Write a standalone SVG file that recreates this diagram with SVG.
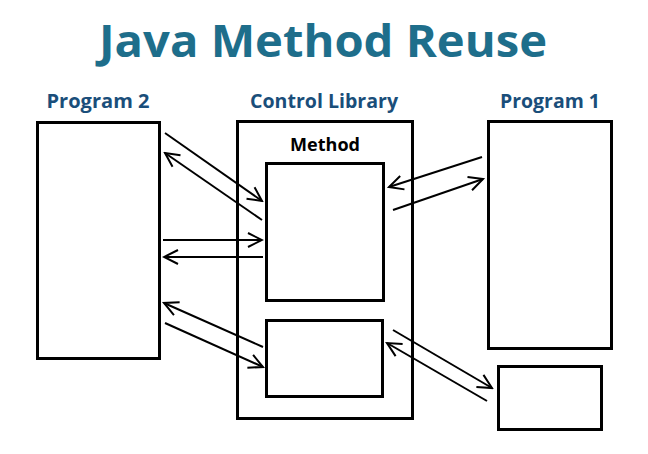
<svg xmlns="http://www.w3.org/2000/svg" width="648" height="454" viewBox="0 0 648 454">
<style>
.box{fill:none;stroke:#000;stroke-width:3}
.ln{fill:none;stroke:#000;stroke-width:2}
.title{font-family:"Open Sans","Liberation Sans",sans-serif;font-weight:bold;fill:#1e6e8b}
.lbl{font-family:"Open Sans","Liberation Sans",sans-serif;font-weight:bold;fill:#1a4e7a}
.m{font-family:"Open Sans","Liberation Sans",sans-serif;font-weight:bold;fill:#000}
</style>
<defs>
<marker id="ah" viewBox="0 0 18 18" refX="16" refY="9" markerWidth="18" markerHeight="18" markerUnits="userSpaceOnUse" orient="auto-start-reverse">
<polyline points="2,2 16,9 2,16" fill="none" stroke="#000" stroke-width="2"/>
</marker>
</defs>
<rect width="648" height="454" fill="#fff"/>
<text class="title" x="323" y="57" font-size="45" text-anchor="middle" textLength="448" lengthAdjust="spacingAndGlyphs">Java Method Reuse</text>
<g id="program2">
<text class="lbl" x="98" y="108" font-size="19" text-anchor="middle" textLength="103" lengthAdjust="spacingAndGlyphs">Program 2</text>
<rect class="box" x="37.5" y="122.5" width="122" height="236"/>
</g>
<g id="controlLibrary">
<text class="lbl" x="324" y="108" font-size="19" text-anchor="middle" textLength="148" lengthAdjust="spacingAndGlyphs">Control Library</text>
<rect class="box" x="237.5" y="121.5" width="175" height="297"/>
</g>
<g id="method">
<text class="m" x="325" y="151" font-size="17" text-anchor="middle" textLength="70" lengthAdjust="spacingAndGlyphs">Method</text>
<rect class="box" x="266.5" y="163.5" width="117" height="137"/>
</g>
<g id="method2">
<rect class="box" x="266.5" y="320.5" width="116" height="76"/>
</g>
<g id="program1">
<text class="lbl" x="550" y="108" font-size="19" text-anchor="middle" textLength="100" lengthAdjust="spacingAndGlyphs">Program 1</text>
<rect class="box" x="488.5" y="121.5" width="123" height="227"/>
</g>
<g id="program1b">
<rect class="box" x="498.5" y="366.5" width="103" height="63"/>
</g>
<g id="connectors">
<line class="ln" x1="165" y1="133" x2="262" y2="201" marker-end="url(#ah)"/>
<line class="ln" x1="262" y1="220" x2="165" y2="153" marker-end="url(#ah)"/>
<line class="ln" x1="163" y1="240" x2="262" y2="240" marker-end="url(#ah)"/>
<line class="ln" x1="263" y1="257" x2="164" y2="257" marker-end="url(#ah)"/>
<line class="ln" x1="263" y1="347" x2="164" y2="303" marker-end="url(#ah)"/>
<line class="ln" x1="165" y1="323" x2="263" y2="367" marker-end="url(#ah)"/>
<line class="ln" x1="482" y1="157" x2="389" y2="187" marker-end="url(#ah)"/>
<line class="ln" x1="393" y1="210" x2="483" y2="179" marker-end="url(#ah)"/>
<line class="ln" x1="393" y1="330" x2="492" y2="388" marker-end="url(#ah)"/>
<line class="ln" x1="487" y1="401" x2="387" y2="343" marker-end="url(#ah)"/>
</g>
</svg>
